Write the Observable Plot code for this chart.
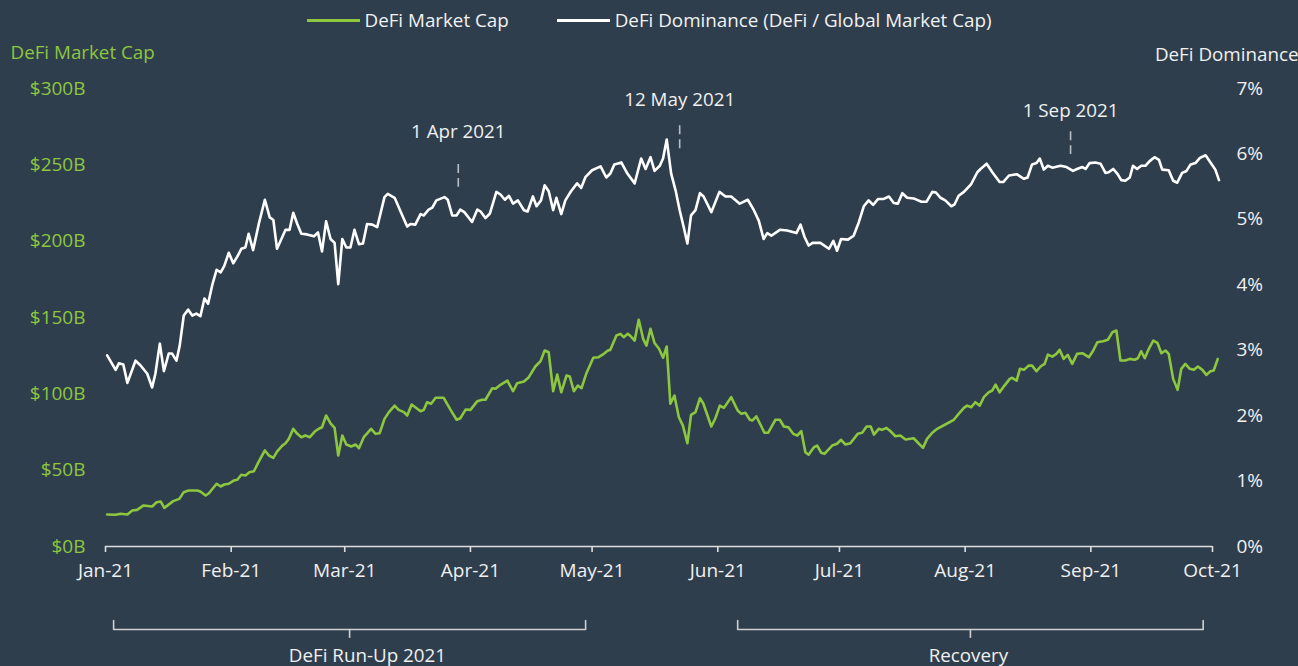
<!DOCTYPE html>
<html>
<head>
<meta charset="utf-8">
<script src="https://cdn.jsdelivr.net/npm/d3@7"></script>
<script src="https://cdn.jsdelivr.net/npm/@observablehq/plot@0.6"></script>
<style>
  html, body { margin: 0; padding: 0; background: #2f3e4d; }
  body { width: 1298px; height: 666px; overflow: hidden; font-family: "Open Sans", "Noto Sans", sans-serif; }
  #legend { height: 40px; display: flex; justify-content: center; align-items: center; color: #f2f2f2; font-size: 18.8px; }
  #legend .item { display: flex; align-items: center; margin: 0 24px; }
  #legend .sw { display: inline-block; width: 53px; height: 3px; margin-right: 5px; }
  #chart svg { display: block; overflow: visible; }
</style>
</head>
<body>
<div id="legend"></div>
<div id="chart"></div>
<script>
// ---- Data (days since 1 Jan 2021) ----
const seriesNames = ["DeFi Market Cap", "DeFi Dominance (DeFi / Global Market Cap)"];
const seriesColors = ["#8dc63f", "#ffffff"];

// DeFi Market Cap, $B
const capDay = [
  0.4,2.5,3.7,5.4,6.6,7.8,9.4,11.5,12.6,13.6,
  14.5,16.7,18.2,19.3,20.5,22.6,23.4,24.7,25.5,27.4,
  28.4,29.3,30.4,31.6,32.5,33.5,34.5,35.5,36.6,37.6,
  39.3,40.3,41.4,42.3,43.6,44.4,45.2,46.3,47.3,48.3,
  49.3,50.4,51.6,52.6,53.4,54.4,55.5,56.5,57.4,58.4,
  59.4,60.6,61.7,62.5,63.7,64.9,65.5,66.6,67.6,68.8,
  69.9,71.3,72.3,73.6,74.4,75.5,76.4,77.7,78.5,79.3,
  80.3,81.4,83.4,85.1,86.6,87.5,88.8,90.0,91.7,92.9,
  93.7,95.4,96.2,97.4,99.1,100.5,101.5,103.2,104.4,106.0,
  107.3,108.3,109.3,110.4,111.4,112.4,113.7,114.5,115.5,116.5,
  117.4,118.6,120.3,121.6,122.9,123.9,124.5,126.0,127.0,127.8,
  128.8,129.6,130.5,131.5,132.6,133.4,134.4,135.4,136.5,137.5,
  138.4,139.3,140.3,141.4,142.4,143.5,144.4,145.5,146.6,147.4,
  149.4,150.4,151.5,152.5,154.3,155.9,156.8,157.8,158.9,159.5,
  160.5,162.5,163.4,165.2,166.3,167.3,168.4,169.6,170.6,171.6,
  172.6,173.4,174.7,175.5,176.5,177.3,179.2,180.4,181.4,182.5,
  183.7,185.5,186.6,187.7,188.7,189.5,190.7,191.5,192.6,193.6,
  194.8,196.0,197.3,199.3,201.6,202.6,203.9,205.1,207.1,209.2,
  210.4,211.7,212.5,213.5,214.5,215.6,216.6,217.8,218.7,219.5,
  220.5,221.7,223.0,223.6,224.7,225.5,226.5,227.7,228.5,229.6,
  230.6,231.6,232.4,233.5,234.5,235.3,236.3,237.3,238.4,239.6,
  240.9,242.5,243.6,244.6,246.0,247.2,248.3,249.3,250.3,251.5,
  252.6,253.8,254.6,255.4,256.3,257.3,258.4,259.4,260.4,261.4,
  262.2,263.3,264.4,265.3,266.3,267.4,268.4,269.4,270.5,271.5,
  272.5,273.3,274.3
];
const capValue = [
  21.0,20.8,21.4,21.0,23.6,24.0,26.9,26.2,29.0,29.5,
  25.3,29.7,31.2,35.6,36.7,36.7,36.0,33.4,34.9,41.1,
  39.3,40.6,41.1,43.2,43.7,47.0,46.5,48.7,49.3,54.6,
  62.9,59.6,58.1,62.2,66.1,67.6,70.5,77.1,73.8,71.6,
  72.7,71.6,75.3,77.1,78.1,85.8,80.7,77.7,59.6,72.7,
  66.8,65.5,66.8,64.4,71.6,75.3,77.1,73.8,74.2,83.6,
  88.0,92.3,89.5,88.0,85.8,93.0,91.2,88.6,89.5,94.5,
  93.5,97.4,97.4,89.5,83.0,84.0,89.7,89.5,95.2,96.1,
  96.1,103.7,103.3,105.9,108.7,101.7,106.9,108.1,110.9,117.9,
  121.4,128.4,127.2,101.7,112.6,101.0,112.0,111.3,101.7,105.4,
  103.7,113.5,123.6,124.0,126.2,128.4,128.8,138.2,139.3,137.1,
  139.3,137.5,134.9,148.5,136.0,131.6,142.6,133.3,129.5,123.6,
  131.0,93.5,98.9,84.7,79.2,67.6,86.2,88.0,97.1,93.8,
  78.6,84.0,92.3,90.8,97.8,89.1,86.9,87.6,83.0,82.5,
  85.3,74.5,74.5,83.0,83.0,78.6,78.1,73.8,72.7,75.5,
  61.8,60.1,65.0,66.1,61.4,60.7,66.1,67.3,69.9,66.8,
  67.6,73.8,74.5,78.6,78.6,73.3,77.1,76.4,77.7,75.5,
  72.2,72.7,70.1,70.9,64.6,70.5,74.5,77.1,79.9,83.0,
  86.9,90.8,92.3,91.2,94.5,92.3,97.8,101.0,102.2,106.1,
  101.0,105.4,109.8,110.5,108.7,116.4,115.7,118.5,118.5,114.8,
  117.9,119.6,125.7,124.4,126.2,128.8,122.9,125.5,119.6,126.2,
  126.6,124.0,128.4,133.8,134.4,135.4,140.3,141.5,121.8,121.8,
  122.9,122.3,123.3,127.9,123.3,129.5,134.9,133.4,126.6,128.4,
  126.2,109.8,102.6,116.4,119.6,116.4,115.7,117.9,115.7,112.4,
  114.8,115.3,122.9
];

// DeFi Dominance, %
const domDay = [
  0.4,2.5,3.3,4.4,5.4,7.4,8.6,10.3,11.5,12.3,
  13.4,14.4,15.6,16.4,17.5,18.3,19.3,20.4,21.4,22.4,
  23.4,24.4,25.3,26.3,27.4,28.4,29.3,30.4,31.5,32.5,
  33.5,34.5,35.3,36.4,37.8,39.3,40.5,41.4,42.3,43.6,
  44.4,45.4,46.3,47.3,48.3,49.7,51.4,52.4,53.4,54.4,
  55.5,56.5,57.4,58.4,59.4,60.4,61.4,62.5,63.5,64.5,
  65.8,67.0,68.8,69.6,71.3,73.2,74.4,75.2,76.4,77.7,
  78.5,79.7,80.6,81.6,83.6,84.4,85.5,86.6,87.5,88.5,
  90.4,91.7,92.5,93.7,94.8,96.4,97.4,98.5,99.5,100.5,
  101.7,103.2,104.1,105.4,106.3,107.4,108.3,109.3,110.4,111.2,
  112.4,113.4,114.8,116.3,117.3,118.4,120.0,122.1,123.5,124.5,
  125.5,127.2,128.7,130.5,132.1,133.2,134.4,135.4,136.7,137.5,
  138.4,139.5,140.6,141.6,142.6,143.5,144.4,145.5,146.6,147.5,
  149.4,151.4,152.9,154.3,156.4,158.4,159.9,161.1,162.3,163.2,
  164.2,166.3,168.1,170.4,171.4,172.4,173.4,174.4,176.3,178.4,
  179.5,180.4,181.4,183.1,184.5,185.8,187.0,188.2,189.3,190.5,
  191.8,193.2,194.4,195.4,196.5,197.7,199.3,201.2,202.5,203.9,
  204.8,205.9,207.1,208.6,209.4,210.4,211.7,213.5,215.0,215.8,
  217.3,218.7,220.5,221.4,222.8,224.7,226.5,227.4,228.5,229.6,
  230.4,231.4,232.4,233.5,235.5,237.0,238.6,239.6,240.9,241.7,
  242.7,244.1,245.4,246.6,247.4,248.5,249.5,250.5,251.5,252.6,
  253.4,254.4,255.4,256.5,257.5,258.7,259.8,260.6,262.2,263.3,
  264.3,265.5,266.6,267.6,268.8,269.9,271.3,272.5,273.7,274.6
];
const domValue = [
  2.92,2.70,2.80,2.78,2.50,2.84,2.77,2.64,2.43,2.64,
  3.10,2.68,2.95,2.95,2.84,3.07,3.53,3.62,3.53,3.56,
  3.52,3.79,3.71,3.99,4.23,4.19,4.29,4.49,4.33,4.43,
  4.55,4.57,4.78,4.53,4.93,5.30,5.03,4.99,4.55,4.73,
  4.84,4.84,5.10,4.93,4.78,4.77,4.74,4.80,4.51,4.97,
  4.70,4.64,4.01,4.70,4.57,4.57,4.84,4.62,4.63,4.93,
  4.92,4.88,5.34,5.39,5.33,5.06,4.89,4.93,4.92,5.08,
  5.06,5.15,5.18,5.29,5.34,5.30,5.06,5.06,5.15,5.11,
  4.96,5.15,5.12,5.02,5.09,5.42,5.38,5.30,5.36,5.24,
  5.29,5.14,5.12,5.35,5.20,5.29,5.52,5.43,5.14,5.33,
  5.08,5.29,5.43,5.55,5.48,5.65,5.75,5.81,5.64,5.70,
  5.84,5.87,5.70,5.55,5.93,5.77,5.95,5.74,5.82,5.93,
  6.22,5.70,5.44,5.14,4.88,4.63,5.06,5.14,5.40,5.35,
  5.11,5.42,5.35,5.35,5.24,5.30,5.14,4.98,4.70,4.79,
  4.75,4.84,4.83,4.79,4.92,4.73,4.60,4.64,4.64,4.55,
  4.67,4.52,4.70,4.69,4.75,4.96,5.20,5.29,5.22,5.31,
  5.31,5.35,5.25,5.24,5.40,5.33,5.32,5.27,5.27,5.42,
  5.41,5.33,5.29,5.20,5.23,5.36,5.42,5.54,5.72,5.77,
  5.85,5.72,5.57,5.57,5.67,5.69,5.62,5.64,5.84,5.86,
  5.93,5.76,5.82,5.79,5.82,5.80,5.74,5.77,5.80,5.77,
  5.86,5.87,5.85,5.71,5.72,5.77,5.70,5.60,5.59,5.64,
  5.82,5.77,5.82,5.82,5.89,5.95,5.91,5.76,5.75,5.59,
  5.56,5.71,5.74,5.84,5.86,5.94,5.98,5.87,5.76,5.60
];

// Axis ticks
const capTicks = [0, 50, 100, 150, 200, 250, 300];
const domTicks = [0, 1, 2, 3, 4, 5, 6, 7];
const capMax = 300, domMax = 7;

// Annotations (date marker positions in days, dash range and label level in % dominance)
const annLabels = ["1 Apr 2021", "12 May 2021", "1 Sep 2021"];
const annDay = [87.0, 141.6, 238.0];
const annLow = [5.49, 6.08, 5.99];
const annHigh = [5.84, 6.43, 6.34];
const annLabelLevel = [6.34, 6.82, 6.66];

// Period brackets (days)
const periodLabels = ["DeFi Run-Up 2021", "Recovery"];
const periodStart = [2.0, 155.9];
const periodEnd = [118.4, 270.7];
const periodLabelDay = [64.6, 212.8];

// ---- Build ----
const t0 = Date.UTC(2021, 0, 1);
const toDate = d => new Date(t0 + d * 864e5);
const k = capMax / domMax;
const green = seriesColors[0], white = seriesColors[1];
const FS = 18.8, TICK_FS = 19;

const capData = capDay.map((d, i) => ({date: toDate(d), v: capValue[i]}));
const domData = domDay.map((d, i) => ({date: toDate(d), v: domValue[i] * k}));
const annData = annLabels.map((l, i) => ({label: l, date: toDate(annDay[i]), lo: annLow[i] * k, hi: annHigh[i] * k, ly: annLabelLevel[i] * k}));

// bracket geometry expressed in y-scale units below the axis
const bTop = -48.5, bBot = -54.4, bTick = -60.2, bText = -71.4;
const bracketPaths = periodLabels.map((l, i) => [
  {date: toDate(periodStart[i]), y: bTop, g: i},
  {date: toDate(periodStart[i]), y: bBot, g: i},
  {date: toDate(periodEnd[i]), y: bBot, g: i},
  {date: toDate(periodEnd[i]), y: bTop, g: i}
]).flat();
const bracketTicks = periodLabels.map((l, i) => ({date: toDate((periodStart[i] + periodEnd[i]) / 2)}));
const bracketText = periodLabels.map((l, i) => ({label: l, date: toDate(periodLabelDay[i])}));

// Legend
const legend = document.getElementById("legend");
seriesNames.forEach((n, i) => {
  const it = document.createElement("div");
  it.className = "item";
  it.innerHTML = `<span class="sw" style="background:${seriesColors[i]}"></span><span>${n}</span>`;
  legend.appendChild(it);
});

const monthTicks = d3.utcMonth.range(new Date(t0), new Date(Date.UTC(2021, 9, 2)));

const chart = Plot.plot({
  width: 1298,
  height: 626,
  marginLeft: 105,
  marginRight: 86,
  marginTop: 48,
  marginBottom: 120,
  style: {background: "transparent", color: "#f0f0f0", fontFamily: "'Open Sans', 'Noto Sans', sans-serif", fontSize: TICK_FS + "px", overflow: "visible"},
  x: {type: "utc", domain: [new Date(t0), new Date(Date.UTC(2021, 9, 1))]},
  y: {domain: [0, capMax]},
  marks: [
    Plot.ruleY([0], {stroke: "#dddddd", strokeWidth: 1.6}),
    Plot.axisX({ticks: monthTicks, tickFormat: d3.utcFormat("%b-%y"), tickSize: 6, tickPadding: 11, stroke: "#dddddd", strokeWidth: 1.6, fill: "#f0f0f0", label: null, fontSize: TICK_FS}),
    Plot.axisY({anchor: "left", ticks: capTicks, tickFormat: d => `$${d}B`, tickSize: 0, tickPadding: 20, fill: green, label: null, fontSize: TICK_FS}),
    Plot.axisY({anchor: "right", ticks: domTicks.map(p => p * k), tickFormat: d => `${Math.round(d / k)}%`, tickSize: 0, tickPadding: 24, fill: "#f0f0f0", label: null, fontSize: TICK_FS}),
    Plot.line(domData, {x: "date", y: "v", stroke: white, strokeWidth: 2.6, strokeLinejoin: "round"}),
    Plot.line(capData, {x: "date", y: "v", stroke: green, strokeWidth: 2.6, strokeLinejoin: "round"}),
    Plot.ruleX(annData, {x: "date", y1: "hi", y2: "lo", stroke: "#b9bec4", strokeWidth: 1.6, strokeDasharray: "9,5"}),
    Plot.text(annData, {x: "date", y: "ly", text: "label", fill: "#f0f0f0", fontSize: FS}),
    Plot.line(bracketPaths, {x: "date", y: "y", z: "g", stroke: "#d0d0d0", strokeWidth: 1.6}),
    Plot.ruleX(bracketTicks, {x: "date", y1: bBot, y2: bTick, stroke: "#d0d0d0", strokeWidth: 1.6}),
    Plot.text(bracketText, {x: "date", y: bText, text: "label", fill: "#f0f0f0", fontSize: FS}),
    Plot.text(["DeFi Market Cap"], {frameAnchor: "top-left", dx: -95, dy: -43, textAnchor: "start", fill: green, fontSize: FS}),
    Plot.text(["DeFi Dominance"], {frameAnchor: "top-right", dx: 86, dy: -41, textAnchor: "end", fill: "#f0f0f0", fontSize: FS})
  ]
});
document.getElementById("chart").appendChild(chart);
</script>
</body>
</html>
